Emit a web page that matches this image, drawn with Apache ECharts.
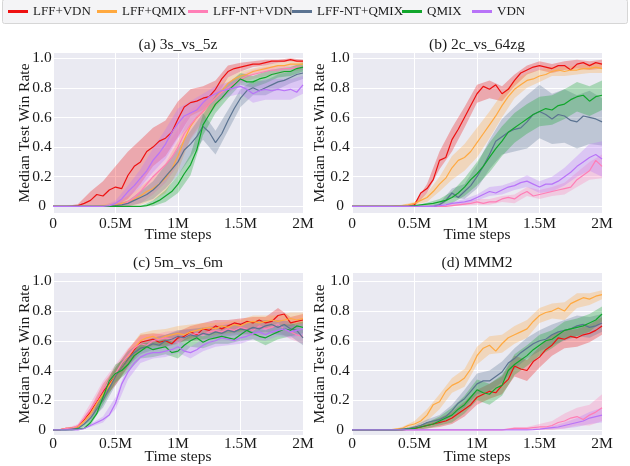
<!DOCTYPE html>
<html><head><meta charset="utf-8">
<script src="https://cdn.jsdelivr.net/npm/echarts@6/dist/echarts.min.js"></script>
<style>html,body{margin:0;padding:0;background:#fff}#c{width:630px;height:466px}</style>
</head><body><div id="c"></div>
<script>
// ---------- data ----------
const seriesNames = ['LFF+VDN', 'LFF+QMIX', 'LFF-NT+VDN', 'LFF-NT+QMIX', 'QMIX', 'VDN'];
const panelTitles = ['(a) 3s_vs_5z', '(b) 2c_vs_64zg', '(c) 5m_vs_6m', '(d) MMM2'];
const xTickLabelsM = [0, 0.5, 1, 1.5, 2];
const yTickValues = [0, 0.2, 0.4, 0.6, 0.8, 1.0];
// x positions (millions of time steps) of line points and of band points
const xLine = [0,0.05,0.1,0.15,0.2,0.25,0.3,0.35,0.4,0.45,0.5,0.55,0.6,0.65,0.7,0.75,0.8,0.85,0.9,0.95,1.0,1.05,1.1,1.15,1.2,1.25,1.3,1.35,1.4,1.45,1.5,1.55,1.6,1.65,1.7,1.75,1.8,1.85,1.9,1.95,2.0];
const xBand = [0,0.1,0.2,0.3,0.4,0.5,0.6,0.7,0.8,0.9,1.0,1.1,1.2,1.3,1.4,1.5,1.6,1.7,1.8,1.9,2.0];

// (a) 3s_vs_5z medians
const a_lffVdn  = [0,0,0,0,0.005,0.02,0.04,0.08,0.07,0.11,0.13,0.12,0.21,0.27,0.30,0.37,0.40,0.44,0.46,0.50,0.59,0.67,0.70,0.71,0.73,0.74,0.79,0.86,0.91,0.93,0.94,0.95,0.96,0.96,0.97,0.98,0.98,0.98,0.99,0.98,0.98];
const a_lffQmix = [0,0,0,0,0,0,0,0,0.003,0.005,0.01,0.02,0.03,0.05,0.07,0.10,0.12,0.15,0.19,0.25,0.34,0.45,0.54,0.60,0.64,0.69,0.73,0.78,0.83,0.86,0.88,0.89,0.91,0.92,0.93,0.94,0.95,0.95,0.96,0.96,0.96];
const a_ntVdn   = [0,0,0,0,0,0,0,0,0,0,0.005,0.01,0.03,0.06,0.10,0.15,0.20,0.24,0.28,0.33,0.40,0.49,0.55,0.60,0.64,0.69,0.73,0.77,0.80,0.83,0.86,0.88,0.89,0.90,0.91,0.92,0.92,0.93,0.93,0.94,0.94];
const a_ntQmix  = [0,0,0,0,0,0,0,0,0,0,0.005,0.01,0.02,0.04,0.06,0.08,0.11,0.15,0.20,0.25,0.30,0.38,0.42,0.47,0.54,0.50,0.43,0.49,0.58,0.66,0.73,0.78,0.80,0.78,0.80,0.82,0.84,0.85,0.87,0.89,0.90];
const a_qmix    = [0,0,0,0,0,0,0,0,0,0,0,0,0,0,0,0.005,0.02,0.04,0.07,0.10,0.15,0.22,0.28,0.38,0.55,0.62,0.69,0.73,0.78,0.82,0.86,0.84,0.84,0.86,0.87,0.89,0.90,0.91,0.91,0.93,0.94];
const a_vdn     = [0,0,0,0,0,0,0,0,0,0.005,0.02,0.05,0.10,0.14,0.19,0.24,0.31,0.36,0.42,0.50,0.56,0.61,0.63,0.65,0.70,0.74,0.76,0.78,0.79,0.80,0.81,0.79,0.76,0.78,0.79,0.78,0.79,0.78,0.79,0.77,0.82];
// (a) band half-widths
const aw_lffVdn  = [0,0,0.01,0.06,0.1,0.14,0.16,0.15,0.13,0.12,0.12,0.09,0.08,0.06,0.04,0.03,0.02,0.02,0.01,0.01,0.01];
const aw_lffQmix = [0,0,0,0,0.01,0.02,0.04,0.06,0.08,0.1,0.1,0.08,0.06,0.05,0.04,0.03,0.02,0.02,0.02,0.02,0.02];
const aw_ntVdn   = [0,0,0,0,0,0.01,0.04,0.08,0.12,0.12,0.12,0.1,0.08,0.06,0.04,0.03,0.03,0.03,0.03,0.02,0.02];
const aw_ntQmix  = [0,0,0,0,0,0.01,0.02,0.04,0.06,0.08,0.09,0.09,0.09,0.08,0.07,0.06,0.05,0.05,0.05,0.04,0.04];
const aw_qmix    = [0,0,0,0,0,0,0,0,0.02,0.04,0.06,0.07,0.07,0.06,0.05,0.04,0.04,0.04,0.03,0.03,0.03];
const aw_vdn     = [0,0,0,0,0,0.02,0.04,0.06,0.08,0.1,0.1,0.08,0.06,0.05,0.05,0.05,0.06,0.07,0.07,0.07,0.06];

// (b) 2c_vs_64zg medians
const b_lffVdn  = [0,0,0,0,0,0,0,0,0,0,0.01,0.09,0.12,0.18,0.31,0.33,0.45,0.52,0.60,0.68,0.76,0.81,0.79,0.82,0.76,0.79,0.85,0.90,0.92,0.94,0.95,0.94,0.93,0.95,0.95,0.92,0.96,0.97,0.95,0.97,0.96];
const b_lffQmix = [0,0,0,0,0,0,0,0.003,0.005,0.01,0.02,0.04,0.06,0.10,0.15,0.19,0.26,0.31,0.33,0.37,0.43,0.49,0.55,0.61,0.68,0.74,0.79,0.82,0.85,0.86,0.88,0.89,0.91,0.92,0.91,0.92,0.92,0.93,0.93,0.94,0.93];
const b_ntVdn   = [0,0,0,0,0,0,0,0,0,0,0,0,0,0,0,0,0.005,0.01,0.015,0.02,0.03,0.02,0.03,0.03,0.05,0.06,0.05,0.08,0.10,0.07,0.08,0.09,0.10,0.11,0.12,0.13,0.18,0.21,0.24,0.31,0.27];
const b_ntQmix  = [0,0,0,0,0,0,0,0,0,0,0,0,0,0,0.01,0.04,0.09,0.06,0.10,0.14,0.20,0.27,0.35,0.44,0.47,0.50,0.52,0.53,0.57,0.62,0.64,0.62,0.59,0.62,0.61,0.58,0.57,0.61,0.60,0.59,0.57];
const b_qmix    = [0,0,0,0,0,0,0,0,0,0,0.005,0.01,0.015,0.02,0.03,0.04,0.06,0.09,0.13,0.18,0.22,0.27,0.33,0.39,0.44,0.50,0.53,0.56,0.59,0.62,0.64,0.66,0.65,0.68,0.69,0.72,0.74,0.75,0.71,0.74,0.75];
const b_vdn     = [0,0,0,0,0,0,0,0,0,0,0,0,0,0,0.005,0.01,0.02,0.025,0.03,0.04,0.06,0.08,0.10,0.09,0.11,0.13,0.14,0.16,0.17,0.15,0.13,0.15,0.15,0.17,0.20,0.23,0.27,0.30,0.33,0.35,0.32];
const bw_lffVdn  = [0,0,0,0,0,0.01,0.03,0.06,0.08,0.07,0.06,0.06,0.05,0.04,0.03,0.03,0.03,0.03,0.03,0.03,0.03];
const bw_lffQmix = [0,0,0,0,0.005,0.01,0.03,0.05,0.08,0.09,0.1,0.09,0.08,0.06,0.05,0.04,0.03,0.03,0.03,0.03,0.03];
const bw_ntVdn   = [0,0,0,0,0,0,0,0,0.01,0.01,0.02,0.02,0.02,0.03,0.03,0.03,0.03,0.04,0.05,0.06,0.08];
const bw_ntQmix  = [0,0,0,0,0,0,0,0.01,0.03,0.05,0.08,0.1,0.12,0.15,0.18,0.18,0.17,0.18,0.18,0.18,0.16];
const bw_qmix    = [0,0,0,0,0,0,0.01,0.02,0.04,0.06,0.08,0.1,0.1,0.1,0.1,0.1,0.1,0.1,0.1,0.1,0.1];
const bw_vdn     = [0,0,0,0,0,0,0,0.01,0.01,0.02,0.02,0.03,0.03,0.03,0.04,0.04,0.05,0.06,0.07,0.09,0.12];

// (c) 5m_vs_6m medians
const c_lffVdn  = [0,0,0.01,0.01,0.02,0.07,0.12,0.19,0.26,0.31,0.36,0.42,0.48,0.54,0.59,0.60,0.61,0.59,0.60,0.58,0.62,0.63,0.66,0.64,0.68,0.67,0.70,0.68,0.70,0.72,0.71,0.73,0.72,0.74,0.72,0.73,0.77,0.78,0.72,0.73,0.74];
const c_lffQmix = [0,0,0.01,0.01,0.02,0.06,0.11,0.18,0.24,0.30,0.36,0.42,0.49,0.55,0.60,0.62,0.63,0.61,0.63,0.64,0.65,0.64,0.66,0.67,0.68,0.69,0.68,0.70,0.69,0.71,0.70,0.72,0.73,0.72,0.73,0.74,0.73,0.74,0.75,0.74,0.75];
const c_ntVdn   = [0,0,0.01,0.01,0.03,0.08,0.14,0.20,0.27,0.33,0.38,0.45,0.50,0.55,0.58,0.57,0.60,0.61,0.62,0.61,0.63,0.62,0.64,0.65,0.64,0.66,0.67,0.66,0.68,0.67,0.69,0.68,0.67,0.70,0.68,0.69,0.71,0.68,0.66,0.64,0.63];
const c_ntQmix  = [0,0,0,0.005,0.01,0.04,0.08,0.14,0.20,0.28,0.36,0.42,0.48,0.52,0.55,0.56,0.58,0.57,0.60,0.61,0.63,0.62,0.64,0.63,0.65,0.64,0.66,0.65,0.67,0.66,0.68,0.67,0.69,0.68,0.70,0.71,0.69,0.71,0.68,0.67,0.62];
const c_qmix    = [0,0,0,0,0.005,0.01,0.05,0.11,0.22,0.33,0.38,0.40,0.44,0.50,0.53,0.56,0.54,0.55,0.56,0.52,0.53,0.57,0.60,0.62,0.59,0.61,0.62,0.63,0.62,0.61,0.64,0.67,0.65,0.63,0.62,0.64,0.66,0.68,0.67,0.70,0.69];
const c_vdn     = [0,0,0,0,0,0.01,0.03,0.05,0.07,0.10,0.18,0.31,0.39,0.45,0.49,0.51,0.52,0.52,0.53,0.54,0.56,0.53,0.52,0.54,0.57,0.59,0.60,0.62,0.61,0.60,0.62,0.63,0.65,0.66,0.64,0.66,0.67,0.68,0.66,0.67,0.68];
const cw_lffVdn  = [0,0,0.01,0.03,0.05,0.06,0.06,0.05,0.04,0.04,0.04,0.04,0.04,0.04,0.04,0.04,0.04,0.04,0.05,0.04,0.04];
const cw_lffQmix = [0,0,0.01,0.03,0.05,0.05,0.05,0.05,0.04,0.05,0.05,0.05,0.04,0.04,0.04,0.04,0.04,0.04,0.04,0.04,0.04];
const cw_ntVdn   = [0,0,0.01,0.04,0.06,0.06,0.05,0.05,0.04,0.04,0.04,0.04,0.04,0.04,0.04,0.04,0.04,0.04,0.05,0.05,0.05];
const cw_ntQmix  = [0,0,0,0.02,0.05,0.06,0.05,0.04,0.04,0.04,0.04,0.04,0.04,0.04,0.04,0.04,0.04,0.04,0.05,0.05,0.05];
const cw_qmix    = [0,0,0,0.02,0.05,0.06,0.05,0.05,0.05,0.05,0.05,0.04,0.04,0.04,0.04,0.04,0.04,0.05,0.05,0.04,0.04];
const cw_vdn     = [0,0,0,0.01,0.02,0.04,0.05,0.04,0.04,0.04,0.04,0.04,0.04,0.04,0.04,0.04,0.04,0.04,0.04,0.04,0.04];

// (d) MMM2 medians
const d_lffVdn  = [0,0,0,0,0,0,0,0,0,0.005,0.01,0.02,0.03,0.04,0.05,0.06,0.08,0.11,0.14,0.17,0.22,0.24,0.26,0.25,0.30,0.34,0.43,0.41,0.40,0.46,0.49,0.54,0.57,0.62,0.61,0.63,0.62,0.64,0.65,0.67,0.70];
const d_lffQmix = [0,0,0,0,0,0,0,0.005,0.01,0.03,0.04,0.06,0.10,0.17,0.19,0.26,0.30,0.32,0.35,0.41,0.50,0.55,0.57,0.53,0.58,0.62,0.64,0.66,0.68,0.73,0.77,0.79,0.80,0.82,0.80,0.85,0.87,0.89,0.88,0.90,0.91];
const d_ntVdn   = [0,0,0,0,0,0,0,0,0,0,0,0,0,0,0,0,0,0,0,0,0,0,0,0,0,0.005,0.01,0.01,0.01,0.015,0.02,0.02,0.03,0.05,0.06,0.08,0.09,0.07,0.10,0.12,0.15];
const d_ntQmix  = [0,0,0,0,0,0,0,0,0.005,0.01,0.02,0.03,0.05,0.06,0.07,0.09,0.13,0.18,0.21,0.26,0.31,0.33,0.33,0.36,0.39,0.45,0.48,0.52,0.55,0.58,0.60,0.61,0.64,0.66,0.67,0.68,0.70,0.71,0.69,0.70,0.72];
const d_qmix    = [0,0,0,0,0,0,0,0,0,0.005,0.01,0.02,0.03,0.04,0.06,0.08,0.10,0.14,0.17,0.22,0.27,0.25,0.24,0.28,0.30,0.40,0.44,0.47,0.50,0.54,0.57,0.60,0.61,0.64,0.67,0.68,0.69,0.70,0.72,0.74,0.78];
const d_vdn     = [0,0,0,0,0,0,0,0,0,0,0,0,0,0,0,0,0,0,0,0,0,0,0,0,0,0,0,0,0,0.002,0.005,0.01,0.015,0.02,0.03,0.04,0.05,0.06,0.08,0.09,0.10];
const dw_lffVdn  = [0,0,0,0,0,0.01,0.02,0.03,0.04,0.05,0.05,0.05,0.06,0.07,0.07,0.07,0.07,0.06,0.06,0.06,0.06];
const dw_lffQmix = [0,0,0,0,0.01,0.02,0.04,0.05,0.05,0.06,0.06,0.06,0.06,0.06,0.06,0.05,0.05,0.06,0.05,0.04,0.03];
const dw_ntVdn   = [0,0,0,0,0,0,0,0,0,0,0,0,0,0.01,0.01,0.02,0.03,0.05,0.06,0.07,0.09];
const dw_ntQmix  = [0,0,0,0,0,0.01,0.02,0.03,0.04,0.06,0.07,0.07,0.07,0.07,0.07,0.07,0.07,0.07,0.07,0.07,0.06];
const dw_qmix    = [0,0,0,0,0,0.01,0.02,0.03,0.05,0.06,0.07,0.07,0.07,0.07,0.07,0.07,0.06,0.06,0.06,0.06,0.05];
const dw_vdn     = [0,0,0,0,0,0,0,0,0,0,0,0,0,0,0,0,0.01,0.02,0.03,0.04,0.05];

// ---------- style / layout ----------
const colors = ['#EE1111', '#FFA940', '#FF7EB6', '#5B7391', '#11A62C', '#B873F8'];
const FONT = '"Liberation Serif", "Times New Roman", serif';
const TXT = '#1a1a1a';

const panels = [
  {lines: [a_lffVdn, a_lffQmix, a_ntVdn, a_ntQmix, a_qmix, a_vdn], bands: [aw_lffVdn, aw_lffQmix, aw_ntVdn, aw_ntQmix, aw_qmix, aw_vdn]},
  {lines: [b_lffVdn, b_lffQmix, b_ntVdn, b_ntQmix, b_qmix, b_vdn], bands: [bw_lffVdn, bw_lffQmix, bw_ntVdn, bw_ntQmix, bw_qmix, bw_vdn]},
  {lines: [c_lffVdn, c_lffQmix, c_ntVdn, c_ntQmix, c_qmix, c_vdn], bands: [cw_lffVdn, cw_lffQmix, cw_ntVdn, cw_ntQmix, cw_qmix, cw_vdn]},
  {lines: [d_lffVdn, d_lffQmix, d_ntVdn, d_ntQmix, d_qmix, d_vdn], bands: [dw_lffVdn, dw_lffQmix, dw_ntVdn, dw_ntQmix, dw_qmix, dw_vdn]}
];
const gridBoxes = [
  {left: 53, top: 53, width: 250, height: 160},
  {left: 352, top: 53, width: 250, height: 160},
  {left: 53, top: 273, width: 250, height: 162},
  {left: 352, top: 273, width: 250, height: 162}
];
const yRanges = [[-0.045, 1.035], [-0.045, 1.035], [-0.034, 1.056], [-0.034, 1.056]];
const titlePos = [[178, 45], [477, 45], [178, 263], [477, 263]];
const legendLefts = [8, 97, 188, 292, 402, 472];

function hexToRgba(hex, a) {
  const n = parseInt(hex.slice(1), 16);
  return 'rgba(' + ((n >> 16) & 255) + ',' + ((n >> 8) & 255) + ',' + (n & 255) + ',' + a + ')';
}

const grid = gridBoxes.map(g => Object.assign({show: true, backgroundColor: '#EAEAF2', borderWidth: 0, containLabel: false}, g));

const xAxis = gridBoxes.map((g, i) => ({
  gridIndex: i, type: 'value', min: 0, max: 2e6, interval: 5e5,
  axisLine: {show: false}, axisTick: {show: false},
  splitLine: {show: true, lineStyle: {color: '#ffffff', width: 1}},
  axisLabel: {
    fontFamily: FONT, fontSize: 15.5, color: TXT, margin: i < 2 ? 3 : 1,
    formatter: v => { const m = v / 1e6; return xTickLabelsM.indexOf(m) < 0 ? '' : (m === 0 ? '0' : m + 'M'); }
  },
  name: 'Time steps', nameLocation: 'middle', nameGap: 14, nameMoveOverlap: false,
  nameTextStyle: {fontFamily: FONT, fontSize: 15.5, color: TXT}
}));

const yAxis = gridBoxes.map((g, i) => ({
  gridIndex: i, type: 'value', min: yRanges[i][0], max: yRanges[i][1],
  axisLine: {show: false},
  axisTick: {show: false, customValues: yTickValues},
  splitLine: {show: true, lineStyle: {color: '#ffffff', width: 1}},
  axisLabel: {
    customValues: yTickValues, align: 'center', margin: (i % 2 === 0) ? 11 : 12,
    fontFamily: FONT, fontSize: 15.5, color: TXT,
    formatter: v => (v === 0 ? '0' : v.toFixed(1))
  },
  name: 'Median Test Win Rate', nameLocation: 'middle', nameGap: (i % 2 === 0) ? 20 : 24, nameMoveOverlap: false,
  nameTextStyle: {fontFamily: FONT, fontSize: 15.5, color: TXT}
}));

const series = [];
panels.forEach((p, pi) => {
  seriesNames.forEach((name, si) => {
    const center = p.lines[si], hw = p.bands[si], col = colors[si];
    series.push({
      type: 'custom', name: 'band_' + pi + '_' + si, xAxisIndex: pi, yAxisIndex: pi,
      silent: true, animation: false, data: [[0, 0]],
      renderItem: (params, api) => {
        const up = [], lo = [];
        for (let k = 0; k < xBand.length; k++) {
          const c = center[2 * k];
          up.push(api.coord([xBand[k] * 1e6, Math.min(1, c + hw[k])]));
          lo.push(api.coord([xBand[k] * 1e6, Math.max(0, c - hw[k])]));
        }
        return {type: 'polygon', shape: {points: up.concat(lo.reverse())},
                style: {fill: hexToRgba(col, 0.3), stroke: null}};
      }
    });
    series.push({
      type: 'line', name: name, xAxisIndex: pi, yAxisIndex: pi,
      data: xLine.map((x, k) => [x * 1e6, center[k]]),
      showSymbol: false, symbol: 'none', animation: false, silent: true,
      color: col, itemStyle: {color: col},
      lineStyle: {color: col, width: 1.2}
    });
  });
});

const legend = seriesNames.map((n, i) => ({
  data: [n], left: legendLefts[i], top: 5, padding: 0, itemGap: 0,
  icon: 'rect', itemWidth: 20, itemHeight: 3, selectedMode: false,
  textStyle: {fontFamily: FONT, fontSize: 13, color: TXT}
}));

const graphic = [
  {type: 'rect', left: 2, top: -1, shape: {width: 625, height: 24, r: 2},
   style: {fill: '#F4F4F6', stroke: '#D6D6D6', lineWidth: 1}, z: -10, silent: true}
].concat(panelTitles.map((t, i) => ({
  type: 'text', x: titlePos[i][0], y: titlePos[i][1], silent: true,
  style: {text: t, align: 'center', verticalAlign: 'middle', fontFamily: FONT, fontSize: 15.5, fill: TXT}
})));

const chart = echarts.init(document.getElementById('c'), null, {renderer: 'canvas'});
chart.setOption({
  backgroundColor: '#ffffff',
  animation: false,
  grid, xAxis, yAxis, series, legend, graphic
});
</script>
</body></html>
